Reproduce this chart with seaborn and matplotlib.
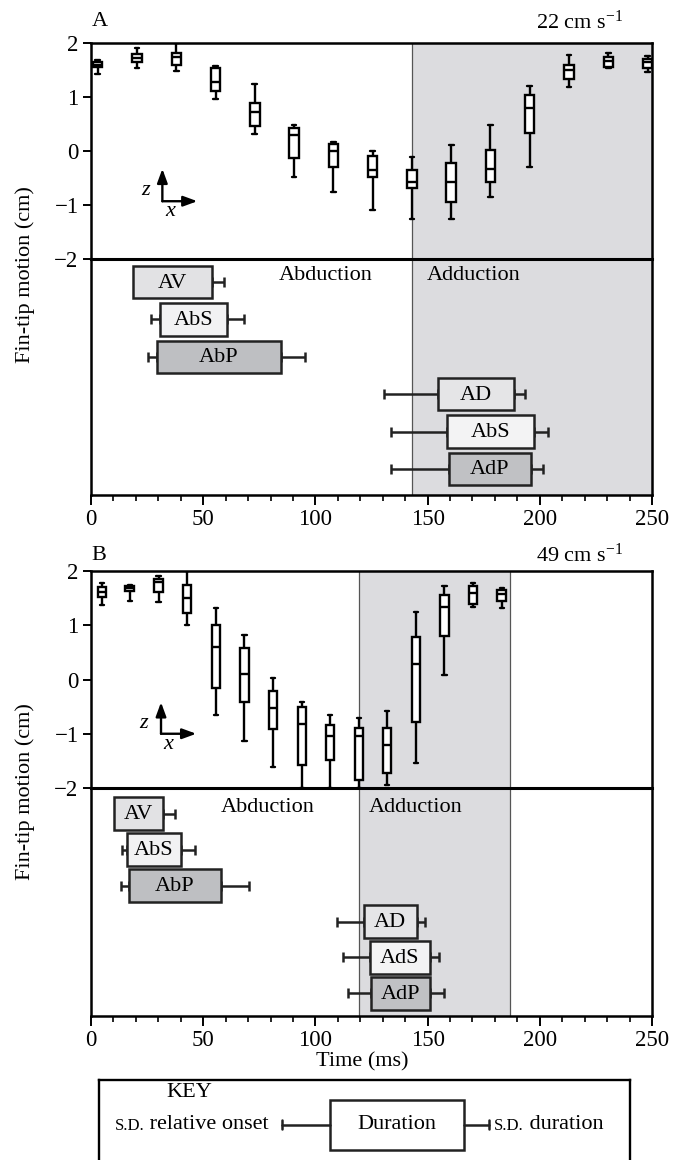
import numpy as np
import pandas as pd
import matplotlib
matplotlib.use("Agg")
import matplotlib.pyplot as plt
from matplotlib.patches import Rectangle, FancyArrowPatch
from matplotlib.ticker import MultipleLocator
import seaborn as sns

# ---------------- Panel A (22 cm s-1): fin-tip z motion box plots ----------------
A_time = [3.0, 20.5, 38.0, 55.5, 73.0, 90.5, 108.0, 125.5, 143.0, 160.5, 178.0, 195.5, 213.0, 230.5, 248.0]
A_whislo = [1.42, 1.54, 1.48, 0.96, 0.31, -0.49, -0.76, -1.09, -1.26, -1.26, -0.86, -0.29, 1.19, 1.53, 1.46]
A_q1 = [1.56, 1.65, 1.59, 1.11, 0.47, -0.13, -0.30, -0.49, -0.68, -0.95, -0.58, 0.34, 1.33, 1.56, 1.53]
A_med = [1.60, 1.73, 1.74, 1.27, 0.73, 0.30, 0.00, -0.36, -0.57, -0.58, -0.34, 0.80, 1.50, 1.67, 1.64]
A_q3 = [1.65, 1.80, 1.82, 1.53, 0.89, 0.42, 0.13, -0.09, -0.36, -0.22, 0.02, 1.03, 1.60, 1.74, 1.71]
A_whishi = [1.69, 1.90, 2.00, 1.58, 1.24, 0.48, 0.17, 0.00, -0.12, 0.12, 0.48, 1.21, 1.77, 1.82, 1.76]
A_adduction = [143.0, 250.0]

# Panel A muscle activity bars (ms)
A_labels = ["AV", "AbS", "AbP", "AD", "AbS", "AdP"]
A_start = [18.7, 30.6, 29.3, 154.7, 158.7, 159.5]
A_end = [53.9, 60.5, 84.6, 188.4, 197.5, 196.0]
A_onset_sd_lo = [np.nan, 26.6, 25.6, 130.7, 133.6, 133.6]
A_dur_sd_hi = [59.2, 68.3, 95.5, 193.5, 203.5, 201.3]

# ---------------- Panel B (49 cm s-1) ----------------
B_time = [4.8, 17.2, 30.1, 42.7, 55.6, 68.4, 81.0, 93.9, 106.6, 119.3, 132.0, 144.8, 157.5, 170.3, 183.0]
B_whislo = [1.37, 1.45, 1.43, 1.00, -0.65, -1.14, -1.62, -2.00, -2.00, -2.00, -1.95, -1.53, 0.08, 1.34, 1.32]
B_q1 = [1.52, 1.63, 1.62, 1.22, -0.16, -0.42, -0.91, -1.57, -1.49, -1.85, -1.72, -0.78, 0.81, 1.40, 1.44]
B_med = [1.62, 1.68, 1.79, 1.51, 0.59, 0.11, -0.53, -0.82, -1.04, -1.05, -1.21, 0.28, 1.34, 1.60, 1.57]
B_q3 = [1.71, 1.72, 1.85, 1.75, 1.00, 0.58, -0.21, -0.51, -0.83, -0.89, -0.89, 0.78, 1.55, 1.73, 1.65]
B_whishi = [1.78, 1.74, 1.90, 2.00, 1.32, 0.82, 0.02, -0.42, -0.65, -0.71, -0.58, 1.25, 1.73, 1.78, 1.68]
B_adduction = [119.5, 186.5]

B_labels = ["AV", "AbS", "AbP", "AD", "AdS", "AdP"]
B_start = [10.2, 16.0, 16.9, 121.6, 124.3, 124.6]
B_end = [32.3, 40.1, 57.9, 145.1, 150.9, 151.2]
B_onset_sd_lo = [np.nan, 13.9, 13.5, 109.7, 112.2, 114.6]
B_dur_sd_hi = [37.4, 46.4, 70.4, 148.7, 155.0, 157.5]

BAR_FILLS = ["#e2e2e4", "#f2f2f3", "#bebfc2", "#e5e5e7", "#f3f3f4", "#c0c1c4"]
SHADE = "#dcdcdf"
FS = 16
TFS = 16.5

sns.set_theme(style="ticks")
plt.rcParams["font.family"] = ["Liberation Serif", "DejaVu Serif"]
plt.rcParams["mathtext.default"] = "regular"
plt.rcParams["axes.linewidth"] = 1.7
plt.rcParams["axes.edgecolor"] = "black"
plt.rcParams["xtick.color"] = "black"
plt.rcParams["ytick.color"] = "black"
plt.rcParams["text.color"] = "black"
plt.rcParams["axes.labelcolor"] = "black"

W, H = 674, 1160
fig = plt.figure(figsize=(W / 100, H / 100), dpi=100)


def px_axes(x0, y0, x1, y1):
    return fig.add_axes([x0 / W, 1 - y1 / H, (x1 - x0) / W, (y1 - y0) / H])


def five_num_frame(times, lo, q1, med, q3, hi):
    rows = []
    for t, a, b, c, d, e in zip(times, lo, q1, med, q3, hi):
        for v in (a, b, c, d, e):
            rows.append((t, v))
    return pd.DataFrame(rows, columns=["time", "z"])


def panel(y_top, y_mid, y_bot, df, box_w, shade, labels, starts, ends, lo, hi,
          bar_h, bar_ylim, phase_pos, phase_y, arrow):
    axt = px_axes(91, y_top, 652, y_mid)
    axb = px_axes(91, y_mid, 652, y_bot)
    axt.set_zorder(2)
    for ax in (axt, axb):
        ax.axvspan(shade[0], shade[1], color=SHADE, lw=0, zorder=0)
        ax.axvline(shade[0], color="#555555", lw=0.9, zorder=1)
        if shade[1] < 250:
            ax.axvline(shade[1], color="#555555", lw=0.9, zorder=1)
        ax.set_facecolor("white")

    sns.boxplot(data=df, x="time", y="z", orient="x", native_scale=True,
                whis=np.inf, width=box_w, color="white", linecolor="black",
                linewidth=1.7, saturation=1, ax=axt)
    axt.set_xlim(0, 250)
    axt.set_ylim(-2, 2)
    axt.set_xlabel("")
    axt.set_ylabel("")
    axt.set_yticks([-2, -1, 0, 1, 2])
    axt.tick_params(axis="x", bottom=False, labelbottom=False)
    axt.tick_params(axis="y", direction="out", length=6, width=1.4,
                    labelsize=TFS, pad=3, labelcolor="black")
    for s in axt.spines.values():
        s.set_visible(True)
        s.set_linewidth(1.8)
    axt.spines["bottom"].set_linewidth(2.2)

    # coordinate arrows glyph
    cx, cy, ty, tx = arrow
    style = "-|>,head_length=0.6,head_width=0.22"
    for end in ((cx, ty), (tx, cy)):
        axt.add_patch(FancyArrowPatch((cx, cy), end, arrowstyle=style,
                                      mutation_scale=14, lw=1.7, color="black",
                                      shrinkA=0, shrinkB=0, zorder=5))
    axt.text(cx - 7.7, cy + 0.19, "z", style="italic", fontsize=FS,
             ha="center", va="center")
    axt.text(cx + 3.4, cy - 0.19, "x", style="italic", fontsize=FS,
             ha="center", va="center")

    rows = np.arange(len(labels))
    for r, s, e, l, h in zip(rows, starts, ends, lo, hi):
        if not np.isnan(l):
            axb.errorbar(s, r, xerr=[[s - l], [0]], fmt="none", ecolor="#222222",
                         elinewidth=1.8, capsize=3.6, capthick=1.8, zorder=2)
        axb.errorbar(e, r, xerr=[[0], [h - e]], fmt="none", ecolor="#222222",
                     elinewidth=1.8, capsize=3.6, capthick=1.8, zorder=2)
    axb.barh(rows, np.array(ends) - np.array(starts), left=starts, height=bar_h,
             color=BAR_FILLS, edgecolor="#222222", linewidth=1.8, zorder=3)
    for r, s, e, lab in zip(rows, starts, ends, labels):
        axb.text((s + e) / 2, r + 0.03, lab, ha="center", va="center",
                 fontsize=FS, zorder=4)
    axb.text(phase_pos[0], phase_y, "Abduction", ha="center", va="center", fontsize=FS)
    axb.text(phase_pos[1], phase_y, "Adduction", ha="center", va="center", fontsize=FS)

    axb.set_xlim(0, 250)
    axb.set_ylim(*bar_ylim)
    axb.set_yticks([])
    axb.spines["top"].set_visible(False)
    for k in ("left", "right", "bottom"):
        axb.spines[k].set_linewidth(1.8)
    axb.xaxis.set_major_locator(MultipleLocator(50))
    axb.xaxis.set_minor_locator(MultipleLocator(10))
    axb.tick_params(axis="x", which="major", direction="out", length=7, width=1.4,
                    labelsize=TFS, pad=3, labelcolor="black")
    axb.tick_params(axis="x", which="minor", direction="out", length=4, width=1.2)
    return axt, axb


dfA = five_num_frame(A_time, A_whislo, A_q1, A_med, A_q3, A_whishi)
dfB = five_num_frame(B_time, B_whislo, B_q1, B_med, B_q3, B_whishi)

panel(43, 259, 495, dfA, 0.24, A_adduction, A_labels, A_start, A_end,
      A_onset_sd_lo, A_dur_sd_hi, 0.87, (5.70, -0.62), (104.7, 170.7), -0.18,
      (31.8, -0.93, -0.33, 47.4))
panel(571, 788, 1016, dfB, 0.30, B_adduction, B_labels, B_start, B_end,
      B_onset_sd_lo, B_dur_sd_hi, 0.92, (5.63, -0.72), (78.7, 144.8), -0.17,
      (31.2, -1.0, -0.42, 46.9))

# headers and labels
fig.text(100 / W, 1 - 22 / H, "A", fontsize=FS, ha="center", va="center")
fig.text(623 / W, 1 - 22 / H, "22 cm s$^{-1}$", fontsize=FS, ha="right", va="center")
fig.text(99 / W, 1 - 555 / H, "B", fontsize=FS, ha="center", va="center")
fig.text(623 / W, 1 - 555 / H, "49 cm s$^{-1}$", fontsize=FS, ha="right", va="center")
fig.text(25 / W, 1 - 275 / H, "Fin-tip motion (cm)", rotation=90, fontsize=FS,
         ha="center", va="center")
fig.text(25 / W, 1 - 792 / H, "Fin-tip motion (cm)", rotation=90, fontsize=FS,
         ha="center", va="center")
fig.text(362 / W, 1 - 1062 / H, "Time (ms)", fontsize=FS, ha="center", va="center")

# key box
kx0, kx1, ky0 = 98.8, 629.6, 1080
kax = fig.add_axes([kx0 / W, -0.03, (kx1 - kx0) / W, (H - ky0) / H + 0.03])
kax.set_xlim(kx0, kx1)
kax.set_ylim(H * 1.03, ky0)
kax.set_xticks([])
kax.set_yticks([])
for s in kax.spines.values():
    s.set_linewidth(1.7)
kax.text(189, 1093, "KEY", ha="center", va="center", fontsize=FS)
kax.add_patch(Rectangle((330, 1100), 134, 50, fill=False, lw=1.8, ec="#222222"))
kax.text(397, 1125, "Duration", ha="center", va="center", fontsize=FS)
kax.plot([282, 330], [1125, 1125], color="#222222", lw=1.8)
kax.plot([282, 282], [1120.5, 1129.5], color="#222222", lw=1.8)
kax.plot([464, 489], [1125, 1125], color="#222222", lw=1.8)
kax.plot([489, 489], [1120.5, 1129.5], color="#222222", lw=1.8)

renderer = fig.canvas.get_renderer()
inv = kax.transData.inverted()
t1 = kax.text(269, 1125, " relative onset", ha="right", va="center", fontsize=FS)
bb = t1.get_window_extent(renderer)
xl = inv.transform((bb.x0, bb.y0))[0]
kax.text(xl, 1126, "S.D.", ha="right", va="center", fontsize=FS * 0.75)
t2 = kax.text(494, 1126, "S.D.", ha="left", va="center", fontsize=FS * 0.75)
bb2 = t2.get_window_extent(renderer)
xr = inv.transform((bb2.x1, bb2.y0))[0]
kax.text(xr, 1125, " duration", ha="left", va="center", fontsize=FS)

fig.savefig("out.png", dpi=100)
